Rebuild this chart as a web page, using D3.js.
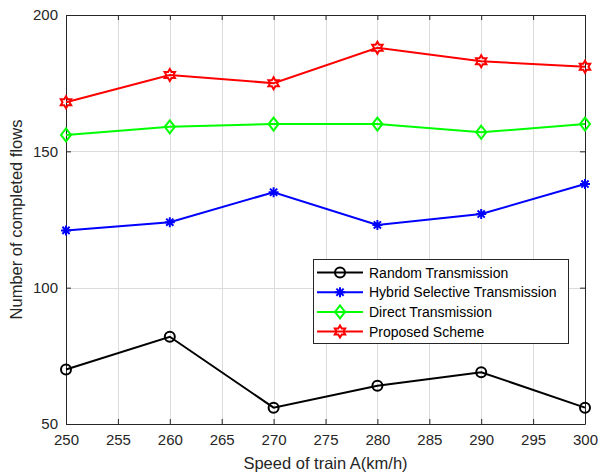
<!DOCTYPE html>
<html>
<head>
<meta charset="utf-8">
<script src="https://cdn.jsdelivr.net/npm/d3@7"></script>
<style>
  html, body { margin: 0; padding: 0; background: #fff; }
  svg { display: block; font-family: "Liberation Sans", Arial, sans-serif; }
</style>
</head>
<body>
<svg id="chart" width="599" height="472"></svg>
<script>
// Train speed (km/h) on the x axis
const speeds = [250, 260, 270, 280, 290, 300];

// Completed flows per scheme
const randomTx = [70, 82, 56, 64, 69, 56];
const hybridTx = [121, 124, 135, 123, 127, 138];
const directTx = [156, 159, 160, 160, 157, 160];
const proposed = [168, 178, 175, 188, 183, 181];

const xTicks = [250, 255, 260, 265, 270, 275, 280, 285, 290, 295, 300];
const yTicks = [50, 100, 150, 200];

const seriesNames = ["Random Transmission", "Hybrid Selective Transmission", "Direct Transmission", "Proposed Scheme"];

const series = [
  { name: seriesNames[0], values: randomTx, color: "#000000", marker: "circle" },
  { name: seriesNames[1], values: hybridTx, color: "#0000ff", marker: "asterisk" },
  { name: seriesNames[2], values: directTx, color: "#00ff00", marker: "diamond" },
  { name: seriesNames[3], values: proposed, color: "#ff0000", marker: "hexagram" }
];

const svg = d3.select("#chart");
const L = 66, R = 585, T = 15, B = 424;

const x = d3.scaleLinear().domain([250, 300]).range([L, R]);
const y = d3.scaleLinear().domain([50, 200]).range([B, T]);

// grid
const grid = svg.append("g").attr("stroke", "#dcdcdc").attr("stroke-width", 1);
xTicks.forEach(t => grid.append("line")
  .attr("x1", Math.round(x(t)) + 0.5).attr("x2", Math.round(x(t)) + 0.5)
  .attr("y1", T).attr("y2", B));
yTicks.forEach(t => grid.append("line")
  .attr("y1", Math.round(y(t)) + 0.5).attr("y2", Math.round(y(t)) + 0.5)
  .attr("x1", L).attr("x2", R));

// axes (ticks pointing inward, mirrored on top/right)
const tickLen = 5;
const xAxisB = d3.axisBottom(x).tickValues(xTicks).tickSizeInner(-tickLen).tickSizeOuter(0).tickPadding(10);
const xAxisT = d3.axisTop(x).tickValues(xTicks).tickSizeInner(-tickLen).tickSizeOuter(0).tickFormat("");
const yAxisL = d3.axisLeft(y).tickValues(yTicks).tickSizeInner(-tickLen).tickSizeOuter(0).tickPadding(8);
const yAxisR = d3.axisRight(y).tickValues(yTicks).tickSizeInner(-tickLen).tickSizeOuter(0).tickFormat("");

function styleAxis(g) {
  g.select(".domain").attr("stroke", "#262626");
  g.selectAll(".tick line").attr("stroke", "#262626");
  g.selectAll(".tick text").attr("fill", "#262626").attr("font-size", 15)
    .attr("font-family", "Liberation Sans, Arial, sans-serif");
}

svg.append("g").attr("transform", `translate(0,${B})`).call(xAxisB).call(styleAxis);
svg.append("g").attr("transform", `translate(0,${T})`).call(xAxisT).call(styleAxis);
svg.append("g").attr("transform", `translate(${L},0)`).call(yAxisL).call(styleAxis);
svg.append("g").attr("transform", `translate(${R},0)`).call(yAxisR).call(styleAxis);

// marker shapes
function hexagramPath(r) {
  const pts = [];
  for (let i = 0; i < 12; i++) {
    const a = -Math.PI / 2 + i * Math.PI / 6;
    const rr = i % 2 === 0 ? r : r / Math.sqrt(3);
    pts.push([rr * Math.cos(a), rr * Math.sin(a)]);
  }
  return "M" + pts.map(p => p.join(",")).join("L") + "Z";
}
function drawMarker(g, type, cx, cy, color) {
  const m = g.append("g").attr("transform", `translate(${cx},${cy})`)
    .attr("fill", "none").attr("stroke", color).attr("stroke-width", 2);
  if (type === "circle") {
    m.append("circle").attr("r", 5);
  } else if (type === "diamond") {
    m.append("path").attr("d", "M0,-6.5L5,0L0,6.5L-5,0Z");
  } else if (type === "asterisk") {
    const r = 5;
    m.append("path").attr("d",
      `M${-r},0L${r},0M0,${-r}L0,${r}M${-r*0.72},${-r*0.72}L${r*0.72},${r*0.72}M${-r*0.72},${r*0.72}L${r*0.72},${-r*0.72}`);
  } else if (type === "hexagram") {
    m.append("path").attr("d", hexagramPath(6));
  }
}

// series lines and markers
const line = d3.line().x((d, i) => x(speeds[i])).y(d => y(d));
series.forEach(s => {
  svg.append("path").datum(s.values)
    .attr("d", line).attr("fill", "none")
    .attr("stroke", s.color).attr("stroke-width", 2);
  const mg = svg.append("g");
  s.values.forEach((v, i) => drawMarker(mg, s.marker, x(speeds[i]), y(v), s.color));
});

// axis titles
svg.append("text")
  .attr("x", (L + R) / 2).attr("y", 469)
  .attr("text-anchor", "middle").attr("font-size", 16.5).attr("fill", "#262626")
  .text("Speed of train A(km/h)");
svg.append("text")
  .attr("transform", `translate(22,${(T + B) / 2}) rotate(-90)`)
  .attr("text-anchor", "middle").attr("font-size", 16.5).attr("fill", "#262626")
  .text("Number of completed flows");

// legend
const lg = svg.append("g");
lg.append("rect").attr("x", 313.5).attr("y", 259.5).attr("width", 255).attr("height", 84)
  .attr("fill", "#fff").attr("stroke", "#262626").attr("stroke-width", 1);
series.forEach((s, i) => {
  const cy = 272.5 + i * 19.7;
  lg.append("line").attr("x1", 317).attr("x2", 363).attr("y1", cy).attr("y2", cy)
    .attr("stroke", s.color).attr("stroke-width", 2);
  drawMarker(lg, s.marker, 340, cy, s.color);
  lg.append("text").attr("x", 369).attr("y", cy + 5)
    .attr("font-size", 14).attr("fill", "#000").text(s.name);
});
</script>
</body>
</html>
